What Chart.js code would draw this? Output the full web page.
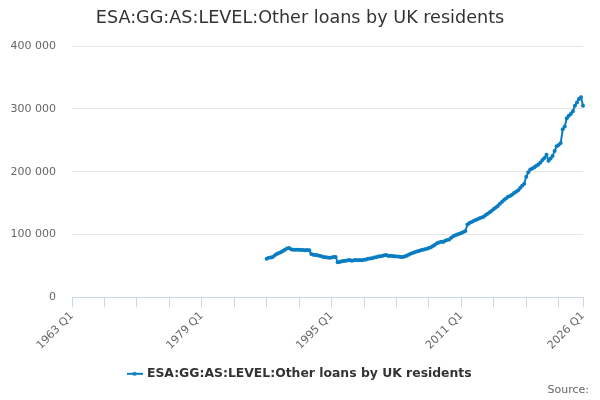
<!DOCTYPE html>
<html>
<head>
<meta charset="utf-8">
<script src="https://cdn.jsdelivr.net/npm/chart.js@4.4.1/dist/chart.umd.min.js"></script>
<style>
html, body { margin: 0; padding: 0; background: #fff; }
#wrap { width: 600px; height: 400px; }
</style>
</head>
<body>
<div id="wrap"><canvas id="chart"></canvas></div>
<script>
var firstYear = 1963;
var lastYear = 2026;
var seriesStart = '1987 Q1';
var seriesName = 'ESA:GG:AS:LEVEL:Other loans by UK residents';

// quarterly values from 1987 Q1 to 2026 Q1
var values = [
	61500, 63000, 63500, 64500, 67000, 69000, 70500, 72000, 74000, 76000,
	78000, 78500, 76500, 76000, 76000, 76000, 75800, 75500, 75500, 75000,
	75500, 75000, 69000, 68000, 67500, 67000, 66500, 65500, 64500, 64000,
	63500, 63000, 63500, 64500, 64500, 56000, 56500, 57500, 58000, 58500,
	59000, 59500, 58500, 59000, 59500, 59000, 59500, 59000, 60000, 60500,
	61500, 62000, 62500, 63500, 64000, 65000, 65500, 66000, 67000, 67500,
	66000, 66500, 66000, 65500, 65000, 65000, 64500, 64500, 65000, 66500,
	68000, 69500, 70500, 72000, 73000, 74000, 75000, 76000, 76500, 77500,
	78500, 80000, 82000, 84000, 86000, 87500, 88500, 88000, 90000, 91500,
	92000, 95000, 97500, 99000, 100000, 101500, 102500, 104000, 105500, 116000,
	118500, 120000, 121500, 123000, 124500, 126000, 127000, 128500, 131000, 133000,
	135500, 138000, 140500, 143000, 145500, 149000, 152000, 155000, 157500, 160000,
	161500, 163500, 166000, 168000, 170500, 174000, 177500, 181000, 192000, 199000,
	203500, 205000, 207000, 209500, 211500, 214500, 218500, 222000, 227000, 217500,
	221000, 225000, 233000, 240500, 242500, 245500, 267500, 272000, 285000, 289000,
	292000, 296000, 305000, 310000, 315500, 318500, 305000
];

var tickLabels = ['1963 Q1', '1979 Q1', '1995 Q1', '2011 Q1', '2026 Q1'];
var tickEvery = 16;

// categories: every quarter on the axis
var categories = [];
for (var y = firstYear; y < lastYear; y++) {
	for (var q = 1; q <= 4; q++) categories.push(y + ' Q' + q);
}
categories.push(lastYear + ' Q1');

var startIndex = categories.indexOf(seriesStart);
var points = categories.map(function(c, i) {
	return i < startIndex ? null : values[i - startIndex];
});

function spaced(n) {
	return n.toString().replace(/\B(?=(\d{3})+(?!\d))/g, ' ');
}

var lineColor = '#0a7dc2';

// legend symbol: short line with a dot, like the reference
var symbol = document.createElement('canvas');
symbol.width = 16;
symbol.height = 6;
var sctx = symbol.getContext('2d');
sctx.strokeStyle = lineColor;
sctx.lineWidth = 2;
sctx.beginPath();
sctx.moveTo(0, 3);
sctx.lineTo(16, 3);
sctx.stroke();
sctx.fillStyle = lineColor;
sctx.beginPath();
sctx.arc(8, 3, 2, 0, Math.PI * 2);
sctx.fill();

// title centred on the page and "Source:" in the bottom right corner
var textPlugin = {
	id: 'texts',
	afterDraw: function(chart) {
		var c = chart.ctx;
		c.save();
		c.fillStyle = '#333333';
		c.font = '17.6px "DejaVu Sans"';
		c.textAlign = 'center';
		c.textBaseline = 'middle';
		c.fillText(seriesName, chart.width / 2, 18);
		c.font = '11px "DejaVu Sans"';
		c.fillStyle = '#666666';
		c.textAlign = 'right';
		c.fillText('Source:', 589, 390);
		c.restore();
	}
};

Chart.defaults.font.family = 'DejaVu Sans';
Chart.defaults.color = '#666666';

var ctx = document.getElementById('chart');
var myChart = new Chart(ctx, {
	type: 'line',
	data: {
		labels: categories,
		datasets: [
			{
				label: seriesName,
				data: points,
				borderColor: lineColor,
				backgroundColor: lineColor,
				borderWidth: 2,
				pointRadius: 2,
				pointBorderWidth: 0,
				pointBackgroundColor: lineColor,
				tension: 0
			}
		]
	},
	plugins: [textPlugin],
	options: {
		responsive: true,
		maintainAspectRatio: false,
		animation: false,
		layout: { padding: { left: 0, right: 0, top: 46, bottom: 10 } },
		plugins: {
			title: { display: false },
			legend: {
				position: 'bottom',
				labels: {
					color: '#333333',
					font: { size: 12.4, weight: 'bold' },
					usePointStyle: true,
					padding: 6,
					generateLabels: function(chart) {
						return [{
							text: seriesName,
							pointStyle: symbol,
							fillStyle: lineColor,
							strokeStyle: lineColor,
							lineWidth: 0,
							datasetIndex: 0,
							fontColor: '#333333'
						}];
					}
				}
			},
			tooltip: { enabled: false }
		},
		scales: {
			x: {
				grid: {
					drawOnChartArea: false,
					drawTicks: true,
					tickLength: 10,
					color: '#ccd6eb'
				},
				border: { color: '#ccd6eb' },
				ticks: {
					autoSkip: false,
					minRotation: 45,
					maxRotation: 45,
					padding: 2,
					color: '#666666',
					font: { size: 11 },
					callback: function(value, index) {
						var label = this.getLabelForValue(value);
						if (index % tickEvery === 0 || index === categories.length - 1) {
							return tickLabels.indexOf(label) >= 0 ? label : '';
						}
						return null;
					}
				},
				afterFit: function(scale) {
					scale.height += 7.5;
				}
			},
			y: {
				min: 0,
				max: 400000,
				grid: { color: '#e6e6e6', drawTicks: false },
				border: { display: false },
				ticks: {
					stepSize: 100000,
					padding: 16,
					color: '#666666',
					font: { size: 11 },
					callback: function(value) {
						return spaced(value);
					}
				},
				afterFit: function(scale) {
					scale.width = 72;
				}
			},
			// empty axis that only keeps the right margin
			yRight: {
				position: 'right',
				display: true,
				grid: { display: false },
				border: { display: false },
				ticks: { display: false },
				afterFit: function(scale) {
					scale.width = 17;
				}
			}
		}
	}
});
</script>
</body>
</html>
